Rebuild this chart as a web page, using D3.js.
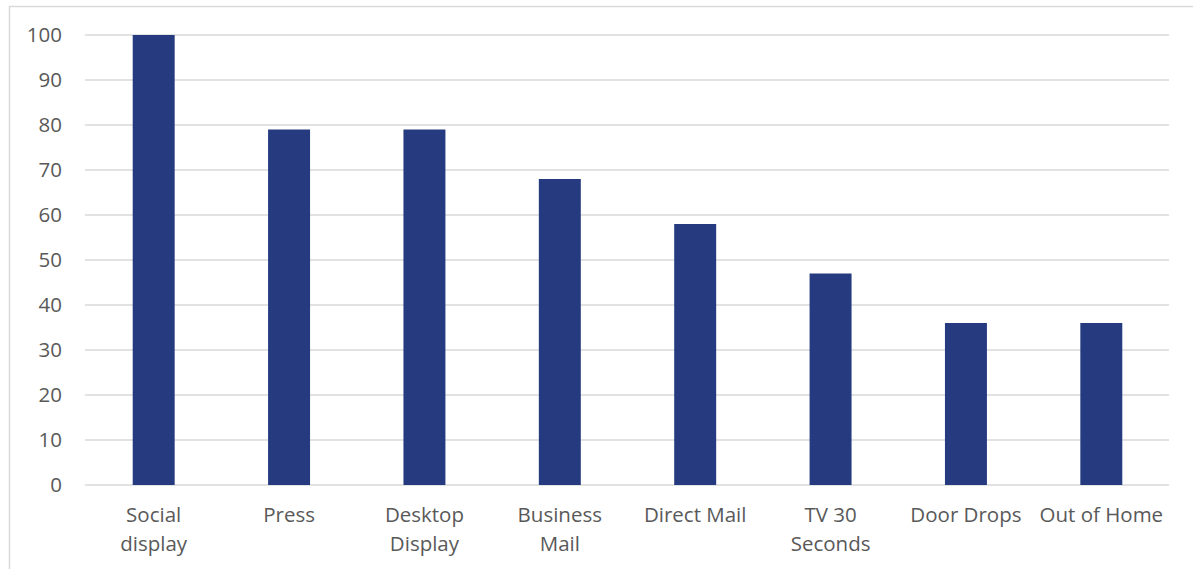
<!DOCTYPE html>
<html>
<head>
<meta charset="utf-8">
<script src="https://cdn.jsdelivr.net/npm/d3@7"></script>
<style>
  html, body { margin: 0; padding: 0; background: #fff; }
  #chart { width: 1193px; height: 569px; }
</style>
</head>
<body>
<div id="chart"></div>
<script>
const categories = [
  ["Social", "display"],
  ["Press"],
  ["Desktop", "Display"],
  ["Business", "Mail"],
  ["Direct Mail"],
  ["TV 30", "Seconds"],
  ["Door Drops"],
  ["Out of Home"],
];
const values = [100, 79, 79, 68, 58, 47, 36, 36];
const yTicks = [0, 10, 20, 30, 40, 50, 60, 70, 80, 90, 100];

const W = 1193, H = 569;
const margin = { top: 35, right: 24, bottom: 84, left: 85 };
const FONT = "'Open Sans', 'Liberation Sans', sans-serif";

const svg = d3.select("#chart")
  .append("svg")
  .attr("width", W)
  .attr("height", H);

// chart frame (only top and left edges are visible in the crop)
svg.append("path")
  .attr("d", `M9.5,${H} L9.5,6.5 L${W},6.5`)
  .attr("fill", "none")
  .attr("stroke", "#d9d9d9")
  .attr("stroke-width", 1.5);

const x = d3.scaleBand()
  .domain(categories.map(c => c.join(" ")))
  .range([margin.left + 1, W - margin.right])
  .paddingInner(0.69)
  .paddingOuter(0.345);

const y = d3.scaleLinear()
  .domain([0, 100])
  .range([H - margin.bottom, margin.top]);

// gridlines
svg.append("g")
  .selectAll("line")
  .data(yTicks)
  .join("line")
  .attr("x1", margin.left)
  .attr("x2", W - margin.right)
  .attr("y1", d => y(d))
  .attr("y2", d => y(d))
  .attr("stroke", "#d9d9d9")
  .attr("stroke-width", 1.5);

// y axis labels
const yAxis = svg.append("g")
  .attr("transform", `translate(${margin.left - 23},0)`)
  .call(d3.axisLeft(y).tickValues(yTicks).tickSize(0).tickPadding(0));
yAxis.select(".domain").remove();
yAxis.selectAll("text")
  .attr("fill", "#595959")
  .attr("font-size", "20.5px")
  .attr("font-family", FONT);

// bars
svg.append("g")
  .selectAll("rect")
  .data(values)
  .join("rect")
  .attr("x", (d, i) => x(categories[i].join(" ")))
  .attr("y", d => y(d))
  .attr("width", x.bandwidth())
  .attr("height", d => y(0) - y(d))
  .attr("fill", "#253a7f");

// category labels
const xl = svg.append("g")
  .selectAll("text")
  .data(categories)
  .join("text")
  .attr("x", d => x(d.join(" ")) + x.bandwidth() / 2)
  .attr("y", 522)
  .attr("text-anchor", "middle")
  .attr("fill", "#595959")
  .attr("font-size", "20.5px")
  .attr("font-family", FONT);
xl.selectAll("tspan")
  .data(d => d)
  .join("tspan")
  .attr("x", function () { return this.parentNode.getAttribute("x"); })
  .attr("dy", (d, i) => i === 0 ? 0 : 29)
  .text(d => d);
</script>
</body>
</html>
